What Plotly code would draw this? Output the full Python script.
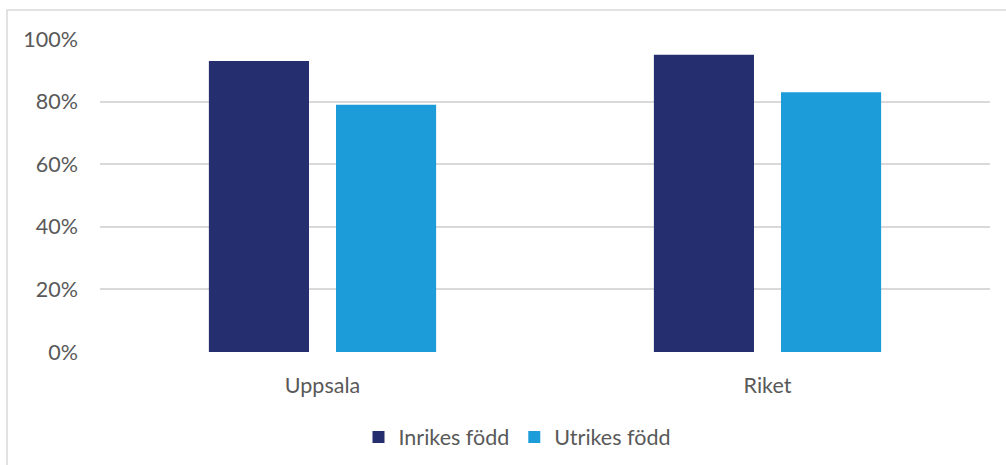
import plotly.graph_objects as go

categories = ["Uppsala", "Riket"]
series_names = ["Inrikes född", "Utrikes född"]
inrikes = [0.93, 0.95]
utrikes = [0.79, 0.83]
colors = ["#252E6E", "#1C9CD8"]
y_ticks = [0, 0.2, 0.4, 0.6, 0.8, 1.0]
y_ticklabels = ["0%", "20%", "40%", "60%", "80%", "100%"]

W, H = 1006, 465
L, R, T, B = 100, 16, 39, 113
FONT = "Lato, Carlito, Open Sans, sans-serif"
FS = 21.5

fig = go.Figure()
for name, vals, col in zip(series_names, [inrikes, utrikes], colors):
    fig.add_trace(go.Bar(x=categories, y=vals, name=name, marker=dict(color=col, line=dict(width=0))))

pw = W - L - R
ph = H - T - B
def px_x(p): return (p - L) / pw
def px_y(p): return (H - B - p) / ph

fig.update_layout(
    width=W, height=H,
    margin=dict(l=L, r=R, t=T, b=B, autoexpand=False),
    paper_bgcolor="white", plot_bgcolor="white",
    barmode="group", bargap=0.4286, bargroupgap=0.2126,
    font=dict(family=FONT, color="#595959", size=FS),
    showlegend=True,
    legend=dict(orientation="h", x=px_x(517), xanchor="center", y=px_y(437), yanchor="middle",
                font=dict(size=FS, color="#595959"), itemwidth=30, traceorder="normal"),
    xaxis=dict(showgrid=False, showline=False, ticks="", ticklabelstandoff=18,
               tickfont=dict(size=FS, color="#595959")),
    yaxis=dict(range=[0, 1.0], tickvals=y_ticks, ticktext=y_ticklabels, showgrid=True,
               gridcolor="#D9D9D9", gridwidth=1.5, zeroline=False, showline=False, ticks="",
               ticklabelstandoff=21, tickfont=dict(size=FS, color="#595959")),
    shapes=[dict(type="rect", xref="paper", yref="paper",
                 x0=px_x(7), x1=px_x(1012), y0=px_y(470), y1=px_y(10),
                 line=dict(color="#D9D9D9", width=1.5), fillcolor="rgba(0,0,0,0)", layer="below")],
)
fig.write_html("out.html", config={"displayModeBar": False},
               post_script="document.body.style.margin='0';document.body.style.overflow='hidden';")
